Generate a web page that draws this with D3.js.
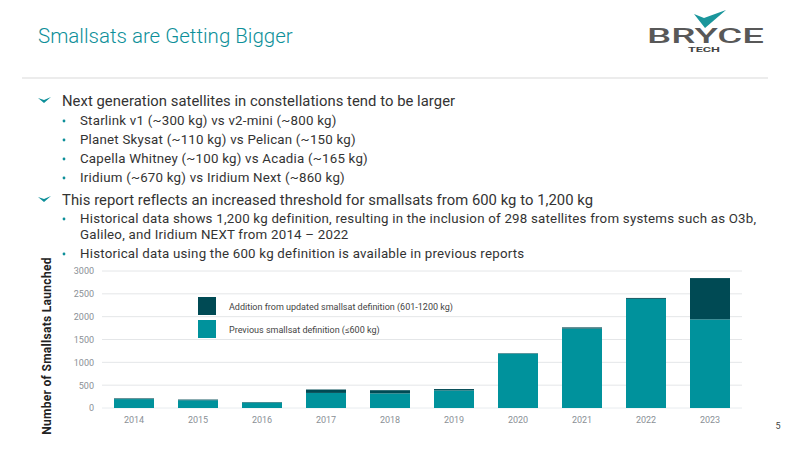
<!DOCTYPE html>
<html>
<head>
<meta charset="utf-8">
<script src="https://cdn.jsdelivr.net/npm/d3@7"></script>
<style>
  body { margin: 0; background: #fff; }
  text { font-family: Roboto, "Open Sans", sans-serif; }
</style>
</head>
<body>
<script>
// chart data
var years = ["2014", "2015", "2016", "2017", "2018", "2019", "2020", "2021", "2022", "2023"];
var previous = [195, 170, 120, 330, 320, 385, 1190, 1740, 2390, 1940];   // <=600 kg
var addition = [15, 15, 10, 75, 70, 30, 10, 25, 20, 905];               // 601-1200 kg
var yTicks = [0, 500, 1000, 1500, 2000, 2500, 3000];
var seriesNames = ["Addition from updated smallsat definition (601-1200 kg)", "Previous smallsat definition (\u2264600 kg)"];

var bullets = [
  {lvl: 0, t: "Next generation satellites in constellations tend to be larger"},
  {lvl: 1, t: "Starlink v1 (~300 kg) vs v2-mini (~800 kg)"},
  {lvl: 1, t: "Planet Skysat (~110 kg) vs Pelican (~150 kg)"},
  {lvl: 1, t: "Capella Whitney (~100 kg) vs Acadia (~165 kg)"},
  {lvl: 1, t: "Iridium (~670 kg) vs Iridium Next (~860 kg)"},
  {lvl: 0, t: "This report reflects an increased threshold for smallsats from 600 kg to 1,200 kg"},
  {lvl: 1, t: "Historical data shows 1,200 kg definition, resulting in the inclusion of 298 satellites from systems such as O3b,"},
  {lvl: 2, t: "Galileo, and Iridium NEXT from 2014 \u2013 2022"},
  {lvl: 1, t: "Historical data using the 600 kg definition is available in previous reports"}
];
var bulletY = [106, 125, 144, 163, 182, 205, 223, 239, 258];

var teal = "#00929c", dark = "#004a54";

var svg = d3.select("body").append("svg")
    .attr("width", 800)
    .attr("height", 450);

// header
svg.append("text")
    .attr("x", 38).attr("y", 43)
    .attr("font-size", 20.5).attr("font-weight", 300)
    .attr("fill", "#0d8f99")
    .text("Smallsats are Getting Bigger");

svg.append("line")
    .attr("x1", 22).attr("x2", 768)
    .attr("y1", 78).attr("y2", 78)
    .attr("stroke", "#d9d9d9").attr("stroke-width", 1);

// logo
var logo = svg.append("g");
logo.append("path")
    .attr("d", "M694,14 L705,28 L726,10 L704,18 Z")
    .attr("fill", "#1a969c");
logo.append("text")
    .attr("x", 647).attr("y", 42.5)
    .attr("font-size", 20).attr("font-weight", 500)
    .attr("textLength", 117).attr("lengthAdjust", "spacingAndGlyphs")
    .attr("fill", "#585858")
    .text("BRYCE");
logo.append("text")
    .attr("x", 688).attr("y", 52)
    .attr("font-size", 7).attr("font-weight", 700)
    .attr("textLength", 32).attr("lengthAdjust", "spacingAndGlyphs")
    .attr("fill", "#444")
    .text("TECH");

// bullet list
var bl = svg.append("g");
bullets.forEach(function(b, i) {
  var y = bulletY[i];
  if (b.lvl === 0) {
    bl.append("path")
      .attr("d", "M38," + (y - 8) + " L44," + (y - 3) + " L51," + (y - 9) + " L44," + (y - 6) + " Z")
      .attr("fill", "#0d8f99");
    bl.append("text").attr("x", 62).attr("y", y)
      .attr("font-size", 14.8).attr("letter-spacing", 0.05).attr("fill", "#333").text(b.t);
  } else {
    if (b.lvl === 1) {
      bl.append("circle").attr("cx", 64).attr("cy", y - 4).attr("r", 1.4).attr("fill", "#0d8f99");
    }
    bl.append("text").attr("x", 80).attr("y", y)
      .attr("font-size", 13.3).attr("letter-spacing", 0.22).attr("fill", "#333").text(b.t);
  }
});

// chart
var margin = {left: 102, right: 58, top: 271, bottom: 42};
var width = 800 - margin.left - margin.right,
    height = 450 - margin.top - margin.bottom;

var chart = svg.append("g")
    .attr("transform", "translate(" + margin.left + "," + margin.top + ")");

var x = d3.scaleBand().domain(years).range([0, width]).paddingInner(0.375).paddingOuter(0.1875);
var y = d3.scaleLinear().domain([0, 3000]).range([height, 0]);

chart.append("g")
  .selectAll("line").data(yTicks).enter().append("line")
    .attr("x1", 0).attr("x2", width)
    .attr("y1", function(d) { return y(d); }).attr("y2", function(d) { return y(d); })
    .attr("stroke", function(d) { return d === 0 ? "#e8ecef" : "#e4e6e8"; })
    .attr("stroke-width", 1);

var yAxis = chart.append("g")
    .call(d3.axisLeft(y).tickValues(yTicks).tickFormat(d3.format("d")).tickSize(0).tickPadding(8));
yAxis.select(".domain").remove();
yAxis.selectAll("text").attr("font-size", 9).attr("fill", "#8a9096").attr("font-family", "Roboto, sans-serif");

var xAxis = chart.append("g")
    .attr("transform", "translate(0," + height + ")")
    .call(d3.axisBottom(x).tickSize(0).tickPadding(9));
xAxis.select(".domain").remove();
xAxis.selectAll("text").attr("font-size", 9).attr("fill", "#8a9096").attr("font-family", "Roboto, sans-serif");

var stackData = years.map(function(yr, i) { return {year: yr, prev: previous[i], add: addition[i]}; });
var stack = d3.stack().keys(["prev", "add"])(stackData);
var colors = {prev: teal, add: dark};

chart.selectAll(".layer").data(stack).enter().append("g")
    .attr("fill", function(d) { return colors[d.key]; })
  .selectAll("rect").data(function(d) { return d; }).enter().append("rect")
    .attr("x", function(d) { return x(d.data.year); })
    .attr("width", x.bandwidth())
    .attr("y", function(d) { return y(d[1]); })
    .attr("height", function(d) { return y(d[0]) - y(d[1]); });

// legend
var legend = svg.append("g").attr("transform", "translate(198,297)");
[dark, teal].forEach(function(c, i) {
  legend.append("rect").attr("x", 0).attr("y", i * 23).attr("width", 18).attr("height", 18).attr("fill", c);
  legend.append("text").attr("x", 31).attr("y", i * 23 + 12.5)
    .attr("font-size", 9).attr("fill", "#444").text(seriesNames[i]);
});

// y title
svg.append("text")
    .attr("transform", "translate(51,346) rotate(-90)")
    .attr("text-anchor", "middle")
    .attr("font-size", 12).attr("font-weight", 700)
    .attr("letter-spacing", 0.3)
    .attr("fill", "#222")
    .text("Number of Smallsats Launched");

// page number
svg.append("text")
    .attr("x", 778).attr("y", 429)
    .attr("text-anchor", "middle")
    .attr("font-size", 9).attr("fill", "#444")
    .text("5");
</script>
</body>
</html>
